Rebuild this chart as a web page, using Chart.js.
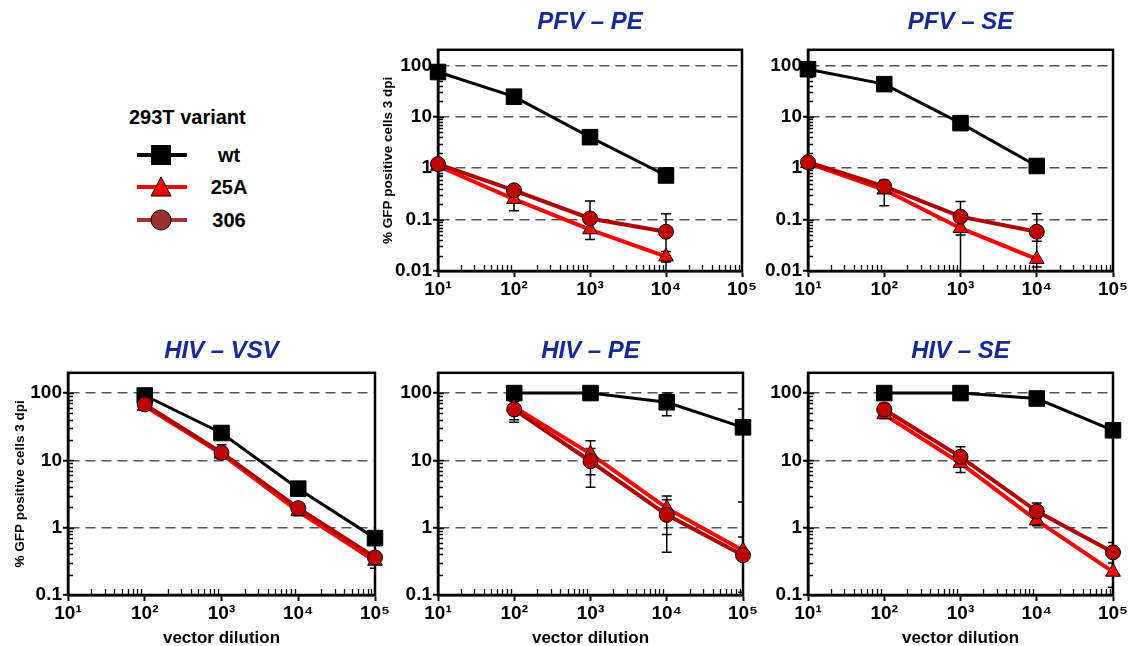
<!DOCTYPE html>
<html>
<head>
<meta charset="utf-8">
<script src="https://cdn.jsdelivr.net/npm/chart.js@4.4.1/dist/chart.umd.min.js"></script>
<style>
  body { margin: 0; background: #fff; width: 1132px; height: 646px; position: relative; overflow: hidden;
         font-family: "Liberation Sans", Arial, sans-serif; }
  .panel { position: absolute; }
  .lg { position: absolute; font-weight: bold; color: #000; white-space: nowrap; }
  .lg-title { font-size: 20px; }
  .lg-text { font-size: 20px; transform: translate(-50%, -50%); }
  .lg-sym { position: absolute; }
</style>
</head>
<body id="body">

<div id="legend"></div>

<div class="panel" style="left:380px;top:0px;width:380px;height:320px"><canvas id="pfvPE"></canvas></div>
<div class="panel" style="left:760px;top:0px;width:371px;height:320px"><canvas id="pfvSE"></canvas></div>
<div class="panel" style="left:0px;top:322px;width:393px;height:327px"><canvas id="hivVSV"></canvas></div>
<div class="panel" style="left:390px;top:322px;width:371px;height:327px"><canvas id="hivPE"></canvas></div>
<div class="panel" style="left:760px;top:322px;width:371px;height:327px"><canvas id="hivSE"></canvas></div>

<script>
// data

const variants = ['wt', '25A', '306'];
const pfvDilution = [10, 100, 1000, 10000];
const hivDilution = [100, 1000, 10000, 100000];
const superDigits = ['⁰', '¹', '²', '³', '⁴', '⁵'];

// PFV – PE
const pfvPE_wt = [74, 24.5, 4.0, 0.72];
const pfvPE_25A = [1.1, 0.25, 0.064, 0.019];
const pfvPE_306 = [1.2, 0.37, 0.105, 0.058];
const pfvPE_25A_err = [[0.7, 1.5], [0.148, 0.35], [0.041, 0.087], [0.015, 0.024]];
const pfvPE_306_err = [null, null, [0.06, 0.23], [0, 0.13]];

// PFV – SE
const pfvSE_wt = [84, 43, 7.5, 1.1];
const pfvSE_25A = [1.25, 0.38, 0.068, 0.017];
const pfvSE_306 = [1.3, 0.44, 0.114, 0.058];
const pfvSE_25A_err = [null, [0.185, 0.58], [0, 0.14], [0.012, 0.038]];
const pfvSE_306_err = [null, null, [0.05, 0.225], [0, 0.13]];

// HIV – VSV
const hivVSV_wt = [92, 25.5, 3.8, 0.7];
const hivVSV_25A = [64, 12.5, 1.75, 0.32];
const hivVSV_306 = [68, 13, 1.95, 0.36];
const hivVSV_25A_err = [null, [10.5, 15], [1.5, 2.1], [0.25, 0.4]];
const hivVSV_306_err = [null, [11, 17], null, null];

// HIV – PE
const hivPE_wt = [100, 100, 73, 31];
const hivPE_25A = [62, 12.5, 1.95, 0.46];
const hivPE_306 = [57, 9.7, 1.55, 0.39];
const hivPE_wt_err = [null, null, [46, 100], [2.4, 58]];
const hivPE_25A_err = [[40, 80], [6.1, 19.5], [0.79, 2.96], [0.11, 0.73]];
const hivPE_306_err = [[37, 75], [4.0, 15], [0.43, 2.6], null];

// HIV – SE
const hivSE_wt = [100, 100, 83, 28];
const hivSE_25A = [48, 9.1, 1.28, 0.22];
const hivSE_306 = [57, 11.3, 1.75, 0.43];
const hivSE_25A_err = [[42, 55], [6.6, 11], [1.07, 1.5], [0.13, 0.3]];
const hivSE_306_err = [[48, 70], [9, 15.9], [1.4, 2.33], [0.3, 0.6]];


// styles

const FONT = '"Liberation Sans", Arial, sans-serif';
const TITLE_BLUE = '#17289a';
const styles = {
    wt:    { line: '#000000', fill: '#000000', shape: 'rect', radius: 11, width: 3 },
    '25A': { line: '#ff0000', fill: '#ff0000', shape: 'triangle', radius: 8.5, width: 4 },
    '306': { line: '#b00000', fill: '#c00000', shape: 'circle', radius: 7.5, width: 4 }
};
const drawOrder = { wt: 2, '25A': 1, '306': 0 };

function isDecade(v) {
    const l = Math.log10(v);
    return Math.abs(l - Math.round(l)) < 1e-6;
}

function series(name, xs, ys, err) {
    const st = styles[name];
    return {
        label: name,
        data: xs.map((x, i) => ({ x: x, y: ys[i] })),
        errorBars: err || null,
        borderColor: st.line,
        borderWidth: st.width,
        backgroundColor: st.fill,
        pointBackgroundColor: st.fill,
        pointBorderColor: '#000',
        pointBorderWidth: 1,
        pointStyle: st.shape,
        pointRadius: st.radius,
        pointHoverRadius: st.radius,
        tension: 0,
        clip: false,
        order: drawOrder[name]
    };
}

// box, minor ticks and error bars
const framePlugin = {
    id: 'frame',
    beforeDatasetsDraw(chart) {
        const ctx = chart.ctx;
        const a = chart.chartArea;
        const x = chart.scales.x, y = chart.scales.y;

        ctx.save();
        ctx.strokeStyle = '#000';
        ctx.lineWidth = 1.3;
        ctx.beginPath();
        for (let e = Math.floor(Math.log10(x.min)); e <= Math.log10(x.max); e++) {
            for (let m = 2; m <= 9; m++) {
                const v = m * Math.pow(10, e);
                if (v <= x.min || v >= x.max) continue;
                const px = Math.round(x.getPixelForValue(v)) + 0.5;
                ctx.moveTo(px, a.bottom);
                ctx.lineTo(px, a.bottom - 6);
            }
        }
        for (let e = Math.floor(Math.log10(y.min)); e <= Math.log10(y.max); e++) {
            for (let m = 1; m <= 9; m++) {
                const v = m * Math.pow(10, e);
                if (v <= y.min || v >= y.max) continue;
                const py = Math.round(y.getPixelForValue(v)) + 0.5;
                ctx.moveTo(a.left, py);
                ctx.lineTo(a.left + (m === 1 ? 6 : 5), py);
            }
        }
        ctx.stroke();

        ctx.lineWidth = 2.5;
        ctx.strokeRect(a.left, a.top, a.right - a.left, a.bottom - a.top);

        // error bars
        ctx.beginPath();
        ctx.rect(a.left, a.top, a.right - a.left, a.bottom - a.top);
        ctx.clip();
        ctx.lineWidth = 1.5;
        ctx.beginPath();
        chart.data.datasets.forEach(function (ds) {
            if (!ds.errorBars) return;
            ds.errorBars.forEach(function (e, i) {
                if (!e) return;
                const px = x.getPixelForValue(ds.data[i].x);
                const hi = y.getPixelForValue(e[1]);
                const lo = e[0] > y.min ? y.getPixelForValue(e[0]) : a.bottom;
                ctx.moveTo(px, hi);
                ctx.lineTo(px, lo);
                ctx.moveTo(px - 5, hi);
                ctx.lineTo(px + 5, hi);
                if (e[0] > y.min) {
                    ctx.moveTo(px - 5, lo);
                    ctx.lineTo(px + 5, lo);
                }
            });
        });
        ctx.stroke();
        ctx.restore();
    }
};

function makePanel(id, opts) {
    const yMin = opts.yMin;
    return new Chart(document.getElementById(id).getContext('2d'), {
        type: 'line',
        data: { datasets: opts.datasets },
        options: {
            responsive: true,
            maintainAspectRatio: false,
            animation: false,
            events: [],
            layout: { padding: { left: 0, right: 18, top: 0, bottom: 0 } },
            plugins: {
                legend: { display: false },
                tooltip: { enabled: false },
                title: {
                    display: true,
                    text: opts.title,
                    fullSize: false,
                    color: TITLE_BLUE,
                    font: { family: FONT, size: 24, weight: 'bold', style: 'italic' },
                    padding: opts.titlePad
                }
            },
            scales: {
                x: {
                    type: 'logarithmic',
                    min: 10,
                    max: 100000,
                    grid: {
                        drawOnChartArea: false,
                        tickLength: 6,
                        tickWidth: 2,
                        color: 'transparent',
                        tickColor: c => (c.tick && isDecade(c.tick.value)) ? '#000' : 'transparent'
                    },
                    border: { display: true, color: '#000', width: 2.5 },
                    ticks: {
                        autoSkip: false,
                        maxRotation: 0,
                        padding: 1,
                        color: '#000',
                        font: { family: FONT, size: 19, weight: 'bold' },
                        callback: v => isDecade(v) ? '10' + superDigits[Math.round(Math.log10(v))] : null
                    },
                    title: {
                        display: !!opts.xTitle,
                        text: opts.xTitle || '',
                        color: '#000',
                        font: { family: FONT, size: 17, weight: 'bold' },
                        padding: { top: 1, bottom: 0 }
                    },
                    afterFit: s => { s.height = opts.xH; }
                },
                y: {
                    type: 'logarithmic',
                    min: yMin,
                    max: 200,
                    grid: {
                        lineWidth: 1.5,
                        tickLength: 5,
                        tickWidth: 2,
                        color: c => (c.tick && isDecade(c.tick.value) && c.tick.value > yMin * 1.5) ? '#555' : 'transparent',
                        tickColor: c => (c.tick && isDecade(c.tick.value)) ? '#000' : 'transparent'
                    },
                    border: { display: true, color: '#000', width: 2.5, dash: [10, 6] },
                    ticks: {
                        autoSkip: false,
                        padding: 1,
                        color: '#000',
                        font: { family: FONT, size: 19, weight: 'bold' },
                        callback: v => isDecade(v) ? String(Number(v.toPrecision(6))) : null
                    },
                    title: {
                        display: !!opts.yTitle,
                        text: opts.yTitle || '',
                        color: '#000',
                        font: { family: FONT, size: 13.5, weight: 'bold' },
                        padding: { top: opts.yTitlePad || 0, bottom: 0 }
                    },
                    afterFit: s => { s.width = opts.yW; }
                }
            }
        },
        plugins: [framePlugin]
    });
}

const yLabel = '% GFP positive cells 3 dpi';
const xLabel = 'vector dilution';

makePanel('pfvPE', {
    title: 'PFV – PE', yMin: 0.01, yW: 58, xH: 49, yTitle: yLabel, yTitlePad: 0,
    titlePad: { top: 8, bottom: 13 },
    datasets: [
        series('wt', pfvDilution, pfvPE_wt),
        series('25A', pfvDilution, pfvPE_25A, pfvPE_25A_err),
        series('306', pfvDilution, pfvPE_306, pfvPE_306_err)
    ]
});

makePanel('pfvSE', {
    title: 'PFV – SE', yMin: 0.01, yW: 48, xH: 49,
    titlePad: { top: 8, bottom: 13 },
    datasets: [
        series('wt', pfvDilution, pfvSE_wt),
        series('25A', pfvDilution, pfvSE_25A, pfvSE_25A_err),
        series('306', pfvDilution, pfvSE_306, pfvSE_306_err)
    ]
});

makePanel('hivVSV', {
    title: 'HIV – VSV', yMin: 0.1, yW: 68, xH: 54, yTitle: yLabel, yTitlePad: 12, xTitle: xLabel,
    titlePad: { top: 15, bottom: 7 },
    datasets: [
        series('wt', hivDilution, hivVSV_wt),
        series('25A', hivDilution, hivVSV_25A, hivVSV_25A_err),
        series('306', hivDilution, hivVSV_306, hivVSV_306_err)
    ]
});

makePanel('hivPE', {
    title: 'HIV – PE', yMin: 0.1, yW: 48, xH: 54, xTitle: xLabel,
    titlePad: { top: 15, bottom: 7 },
    datasets: [
        series('wt', hivDilution, hivPE_wt, hivPE_wt_err),
        series('25A', hivDilution, hivPE_25A, hivPE_25A_err),
        series('306', hivDilution, hivPE_306, hivPE_306_err)
    ]
});

makePanel('hivSE', {
    title: 'HIV – SE', yMin: 0.1, yW: 48, xH: 54, xTitle: xLabel,
    titlePad: { top: 15, bottom: 7 },
    datasets: [
        series('wt', hivDilution, hivSE_wt),
        series('25A', hivDilution, hivSE_25A, hivSE_25A_err),
        series('306', hivDilution, hivSE_306, hivSE_306_err)
    ]
});

// legend

const legendColors = {
    wt:    { line: '#000000', fill: '#000000' },
    '25A': { line: '#ff0000', fill: '#ff0000' },
    '306': { line: '#a83232', fill: '#9c2f2f' }
};

(function buildLegend() {
    const box = document.getElementById('legend');
    let html = '<div class="lg lg-title" style="left:129px;top:106px">293T variant</div>';
    const rowY = [155, 187, 220];
    variants.forEach(function (name, i) {
        const c = legendColors[name];
        let mark;
        if (styles[name].shape === 'rect') {
            mark = '<rect x="14" y="2" width="20" height="20" fill="' + c.fill + '"/>';
        } else if (styles[name].shape === 'triangle') {
            mark = '<polygon points="24,2 34,21 14,21" fill="' + c.fill + '" stroke="#000" stroke-width="1"/>';
        } else {
            mark = '<circle cx="24" cy="12" r="10" fill="' + c.fill + '" stroke="#000" stroke-width="1"/>';
        }
        html += '<svg class="lg-sym" width="50" height="24" style="left:137px;top:' + (rowY[i] - 12) + 'px">' +
            '<line x1="0" y1="12" x2="50" y2="12" stroke="' + c.line + '" stroke-width="4"/>' + mark + '</svg>';
        html += '<div class="lg lg-text" style="left:229px;top:' + rowY[i] + 'px">' + name + '</div>';
    });
    box.innerHTML = html;
})();
</script>
</body>
</html>
